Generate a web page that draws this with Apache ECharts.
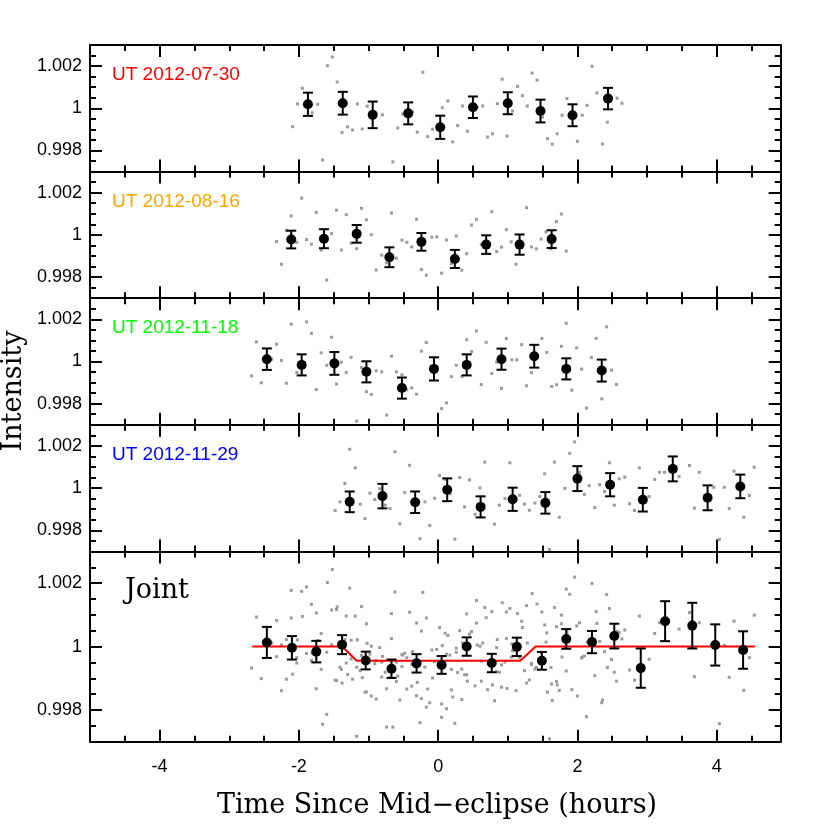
<!DOCTYPE html>
<html>
<head>
<meta charset="utf-8">
<title>Secondary eclipse light curves</title>
<script src="https://cdn.jsdelivr.net/npm/echarts@6/dist/echarts.min.js"></script>
<style>
  html, body { margin: 0; padding: 0; background: #fff; }
  #chart { width: 830px; height: 830px; }
</style>
</head>
<body>
<div id="chart"></div>
<script>
// ---------- data (time in hours since mid-eclipse, normalised intensity) ----------
const nightLabels = ["UT 2012-07-30", "UT 2012-08-16", "UT 2012-11-18", "UT 2012-11-29"];
const nightColors = ["#ff0000", "#ffa500", "#00ff00", "#0000ff"];

// raw exposures, night 1
const n1Time = [-2.09, -2.02, -1.95, -1.81, -1.73, -1.66, -1.59, -1.52, -1.45, -1.38, -1.30, -1.23, -1.16, -1.09, -1.02,
  -0.80, -0.65, -0.58, -0.51, -0.37, -0.30, -0.22, -0.15, -0.08, 0.06, 0.14, 0.21, 0.28, 0.35, 0.42, 0.56, 0.64, 0.71,
  0.78, 0.85, 0.92, 0.99, 1.07, 1.14, 1.21, 1.28, 1.35, 1.42, 1.50, 1.57, 1.64, 1.71, 1.78, 1.85, 2.00, 2.07, 2.14,
  2.21, 2.28, 2.36, 2.43, 2.57, 2.64];
const n1Flux = [0.99913, 1.00021, 1.00095, 0.99979, 1.00019, 0.99755, 1.00202, 1.00243, 1.00125, 0.99885, 0.99912,
  0.99897, 1.00021, 0.99902, 1.00010, 0.99969, 0.99746, 0.99907, 0.99973, 0.99984, 0.99887, 1.00171, 0.99866, 0.99901,
  1.00003, 1.00035, 0.99841, 0.99918, 1.00011, 0.99891, 1.00005, 1.00011, 0.99864, 0.99879, 1.00022, 1.00138, 0.99868,
  0.99987, 1.00104, 1.00060, 1.00011, 1.00167, 1.00134, 0.99958, 0.99856, 0.99830, 0.99879, 0.99967, 1.00046, 0.99844,
  0.99967, 1.00014, 1.00199, 1.00073, 0.99831, 0.99934, 1.00048, 1.00024];

// raw exposures, night 2
const n2Time = [-2.32, -2.25, -2.18, -2.11, -2.03, -1.96, -1.89, -1.82, -1.75, -1.68, -1.60, -1.53, -1.46, -1.39, -1.32,
  -1.25, -1.17, -1.10, -1.03, -0.96, -0.89, -0.81, -0.74, -0.67, -0.60, -0.52, -0.45, -0.38, -0.31, -0.24, -0.17, -0.09,
  -0.02, 0.05, 0.12, 0.19, 0.26, 0.34, 0.41, 0.48, 0.55, 0.62, 0.77, 0.84, 0.91, 0.98, 1.05, 1.12, 1.27, 1.34, 1.41,
  1.48, 1.55, 1.62, 1.70, 1.77, 1.84];
const n2Flux = [0.99968, 0.99861, 1.00022, 1.00090, 0.99965, 1.00174, 0.99978, 0.99956, 1.00106, 0.99928, 0.99786,
  1.00006, 1.00117, 0.99928, 1.00096, 0.99961, 0.99935, 1.00126, 1.00072, 1.00001, 0.99834, 0.99904, 0.99867, 1.00104,
  0.99890, 0.99975, 0.99965, 0.99943, 1.00074, 0.99836, 0.99809, 0.99989, 0.99991, 0.99819, 0.99976, 0.99863, 0.99995,
  0.99833, 0.99911, 1.00047, 1.00074, 0.99954, 1.00110, 0.99921, 0.99942, 1.00025, 0.99967, 0.99861, 1.00129, 0.99943,
  0.99934, 0.99980, 1.00014, 0.99934, 1.00063, 1.00099, 0.99923];

// raw exposures, night 3
const n3Time = [-2.68, -2.61, -2.54, -2.39, -2.32, -2.25, -2.18, -2.11, -2.03, -1.89, -1.82, -1.75, -1.68, -1.60, -1.53,
  -1.46, -1.39, -1.32, -1.25, -1.17, -1.10, -1.03, -0.96, -0.89, -0.81, -0.74, -0.67, -0.60, -0.52, -0.45, -0.38, -0.31,
  -0.24, -0.17, 0.05, 0.12, 0.19, 0.26, 0.34, 0.41, 0.48, 0.55, 0.62, 0.69, 0.77, 0.84, 0.91, 0.98, 1.06, 1.13, 1.20,
  1.27, 1.34, 1.49, 1.56, 1.63, 1.70, 1.77, 1.84, 1.92, 1.99, 2.06, 2.13, 2.20, 2.27, 2.35, 2.42, 2.49, 2.56];
const n3Flux = [0.99932, 1.00093, 0.99899, 1.00011, 1.00082, 1.00005, 0.99897, 1.00177, 0.99948, 1.00188, 1.00133,
  0.99867, 1.00041, 0.99982, 1.00115, 0.99893, 0.99997, 0.99948, 1.00020, 0.99717, 0.99972, 0.99857, 0.99844, 0.99956,
  0.99951, 0.99746, 1.00025, 0.99951, 0.99937, 0.99866, 0.99875, 0.99845, 1.00049, 1.00090, 0.99777, 0.99804, 0.99928,
  0.99982, 0.99929, 1.00103, 1.00047, 1.00145, 0.99891, 1.00091, 0.99943, 0.99997, 0.99872, 1.00109, 1.00008, 1.00008,
  1.00080, 0.99885, 0.99947, 1.00109, 1.00043, 0.99882, 0.99890, 1.00072, 1.00181, 0.99864, 1.00065, 0.99964, 0.99779,
  1.00019, 1.00110, 0.99823, 1.00164, 0.99959, 0.99891];

// raw exposures, night 4
const n4Time = [-1.48, -1.41, -1.34, -1.27, -1.19, -1.12, -1.05, -0.98, -0.91, -0.84, -0.76, -0.69, -0.62, -0.55, -0.48,
  -0.41, -0.26, -0.19, -0.12, -0.05, 0.02, 0.10, 0.17, 0.24, 0.31, 0.38, 0.45, 0.53, 0.60, 0.67, 0.81, 0.88, 0.96, 1.03,
  1.17, 1.24, 1.31, 1.39, 1.46, 1.53, 1.60, 1.67, 1.74, 1.82, 1.89, 1.96, 2.03, 2.10, 2.17, 2.25, 2.32, 2.39, 2.46, 2.53,
  2.60, 2.68, 2.75, 2.82, 2.89, 3.03, 3.11, 3.18, 3.25, 3.46, 3.61, 3.68, 3.75, 3.96, 4.04, 4.11, 4.18, 4.25, 4.39,
  4.47, 4.54];
const n4Flux = [0.99894, 0.99935, 1.00022, 1.00184, 1.00096, 0.99924, 0.99856, 0.99976, 0.99946, 0.99997, 0.99919,
  0.99903, 1.00172, 0.99831, 0.99979, 1.00108, 0.99760, 0.99935, 0.99823, 0.99952, 1.00060, 1.00042, 0.99973, 0.99758,
  1.00050, 0.99911, 1.00039, 0.99876, 1.00001, 1.00123, 0.99829, 0.99919, 0.99951, 1.00120, 0.99966, 0.99924, 0.99895,
  0.99929, 0.99960, 1.00068, 0.99709, 1.00123, 0.99862, 0.99999, 1.00165, 1.00219, 1.00075, 0.99970, 1.00011, 0.99908,
  1.00016, 0.99984, 1.00120, 0.99919, 1.00044, 1.00052, 0.99926, 0.99894, 1.00096, 0.99960, 1.00041, 1.00075, 1.00075,
  1.00055, 1.00107, 0.99905, 1.00075, 1.00004, 0.99757, 1.00004, 0.99903, 1.00080, 0.99862, 0.99965, 1.00099];

// binned points with 1-sigma errors
const n1BinTime = [-1.87, -1.37, -0.94, -0.43, 0.03, 0.50, 1.00, 1.47, 1.93, 2.44];
const n1BinFlux = [1.00019, 1.00024, 0.99969, 0.99976, 0.99910, 1.00005, 1.00024, 0.99987, 0.99967, 1.00046];
const n1BinErr = [0.00055, 0.00054, 0.00063, 0.00052, 0.00055, 0.00051, 0.00052, 0.00054, 0.00052, 0.00051];

const n2BinTime = [-2.11, -1.64, -1.17, -0.70, -0.24, 0.24, 0.69, 1.17, 1.63];
const n2BinFlux = [0.99978, 0.99982, 1.00005, 0.99894, 0.99967, 0.99886, 0.99954, 0.99954, 0.99980];
const n2BinErr = [0.00042, 0.00045, 0.00042, 0.00047, 0.00042, 0.00043, 0.00044, 0.00048, 0.00042];

const n3BinTime = [-2.46, -1.96, -1.49, -1.03, -0.52, -0.06, 0.41, 0.91, 1.38, 1.84, 2.35];
const n3BinFlux = [1.00011, 0.99984, 0.99991, 0.99951, 0.99874, 0.99965, 0.99984, 1.00011, 1.00025, 0.99965, 0.99957];
const n3BinErr = [0.00051, 0.00050, 0.00054, 0.00050, 0.00050, 0.00055, 0.00050, 0.00050, 0.00054, 0.00050, 0.00052];

const n4BinTime = [-1.27, -0.80, -0.33, 0.13, 0.61, 1.07, 1.54, 2.00, 2.47, 2.94, 3.37, 3.87, 4.34];
const n4BinFlux = [0.99935, 0.99962, 0.99933, 0.99992, 0.99911, 0.99947, 0.99930, 1.00045, 1.00016, 0.99945, 1.00091,
  0.99954, 1.00008];
const n4BinErr = [0.00049, 0.00058, 0.00051, 0.00054, 0.00050, 0.00055, 0.00051, 0.00059, 0.00055, 0.00056, 0.00059,
  0.00059, 0.00056];

const jointBinTime = [-2.46, -2.10, -1.75, -1.38, -1.04, -0.67, -0.31, 0.05, 0.41, 0.77, 1.13, 1.49, 1.84, 2.21, 2.53,
  2.91, 3.26, 3.65, 3.98, 4.38];
const jointBinFlux = [1.00013, 0.99996, 0.99984, 1.00006, 0.99956, 0.99930, 0.99947, 0.99942, 1.00000, 0.99948,
  0.99999, 0.99955, 1.00024, 1.00014, 1.00033, 0.99932, 1.00080, 1.00066, 1.00005, 0.99989];
const jointBinErr = [0.00049, 0.00037, 0.00034, 0.00030, 0.00028, 0.00029, 0.00029, 0.00028, 0.00029, 0.00029,
  0.00029, 0.00028, 0.00031, 0.00035, 0.00039, 0.00062, 0.00063, 0.00072, 0.00065, 0.00059];

// best-fit eclipse model
const modelTime = [-2.67, -1.38, -1.17, 1.18, 1.40, 4.55];
const modelFlux = [1, 1, 0.99955, 0.99955, 1, 1];

// axis ticks
const xMinorTicks = [-4.5, -4, -3.5, -3, -2.5, -2, -1.5, -1, -0.5, 0, 0.5, 1, 1.5, 2, 2.5, 3, 3.5, 4, 4.5];
const xMajorTicks = [-4, -2, 0, 2, 4];
const yMinorTicks = [0.9975, 0.998, 0.9985, 0.999, 0.9995, 1, 1.0005, 1.001, 1.0015, 1.002, 1.0025];
const yMajorTicks = [0.998, 1, 1.002];

// ---------- layout ----------
const X_MIN = -5, X_MAX = 4.92;
const Y_MIN = 0.997, Y_MAX = 1.003;
const panelTops = [45, 171.6, 298.2, 424.8, 551.4];
const panelHeights = [126.6, 126.6, 126.6, 126.6, 190.3];
const GRID_LEFT = 90, GRID_WIDTH = 690.7;

const frameLine = { show: true, onZero: false, lineStyle: { color: "#000", width: 2 } };
const tickLine = { color: "#000", width: 2 };
const labelFont = { color: "#000", fontFamily: "Liberation Sans, Arial, sans-serif" };

const pairs = (t, f) => t.map((v, k) => [v, f[k]]);
const triples = (t, f, e) => t.map((v, k) => [v, f[k], e[k]]);

const panels = [
  { raw: pairs(n1Time, n1Flux), bins: triples(n1BinTime, n1BinFlux, n1BinErr) },
  { raw: pairs(n2Time, n2Flux), bins: triples(n2BinTime, n2BinFlux, n2BinErr) },
  { raw: pairs(n3Time, n3Flux), bins: triples(n3BinTime, n3BinFlux, n3BinErr) },
  { raw: pairs(n4Time, n4Flux), bins: triples(n4BinTime, n4BinFlux, n4BinErr) },
];
// joint panel shows every exposure of the four nights together
panels.push({
  raw: panels[0].raw.concat(panels[1].raw, panels[2].raw, panels[3].raw),
  bins: triples(jointBinTime, jointBinFlux, jointBinErr),
  model: pairs(modelTime, modelFlux),
});

function xAxesFor(g, withLabels) {
  const base = { gridIndex: g, type: "value", min: X_MIN, max: X_MAX, splitLine: { show: false } };
  const minor = (pos) => ({
    ...base, position: pos, axisLine: frameLine,
    axisTick: { show: true, inside: true, length: 6, customValues: xMinorTicks, lineStyle: tickLine },
    axisLabel: { show: false },
  });
  const major = (pos, lbl) => ({
    ...base, position: pos, axisLine: { show: false, onZero: false },
    axisTick: { show: true, inside: true, length: 12, customValues: xMajorTicks, lineStyle: tickLine },
    axisLabel: lbl
      ? { show: true, customValues: xMajorTicks, margin: 16, fontSize: 18, ...labelFont, formatter: (v) => String(v) }
      : { show: false },
  });
  return [minor("bottom"), major("bottom", withLabels), minor("top"), major("top", false)];
}

function yAxesFor(g) {
  const base = { gridIndex: g, type: "value", min: Y_MIN, max: Y_MAX, splitLine: { show: false } };
  const minor = (pos) => ({
    ...base, position: pos, axisLine: frameLine,
    axisTick: { show: true, inside: true, length: 6, customValues: yMinorTicks, lineStyle: tickLine },
    axisLabel: { show: false },
  });
  const major = (pos, lbl) => ({
    ...base, position: pos, axisLine: { show: false, onZero: false },
    axisTick: { show: true, inside: true, length: 12, customValues: yMajorTicks, lineStyle: tickLine },
    axisLabel: lbl
      ? { show: true, customValues: yMajorTicks, margin: 8, fontSize: 18, padding: [8, 0, 0, 0], ...labelFont,
          formatter: (v) => String(+v.toFixed(4)) }
      : { show: false },
  });
  return [minor("left"), major("left", true), minor("right"), major("right", false)];
}

function renderErrorBar(params, api) {
  const x = api.value(0), y = api.value(1), e = api.value(2);
  const hi = api.coord([x, y + e]);
  const lo = api.coord([x, y - e]);
  const cap = 5;
  const style = { stroke: "#000", lineWidth: 2 };
  return {
    type: "group",
    children: [
      { type: "line", shape: { x1: hi[0], y1: hi[1], x2: lo[0], y2: lo[1] }, style },
      { type: "line", shape: { x1: hi[0] - cap, y1: hi[1], x2: hi[0] + cap, y2: hi[1] }, style },
      { type: "line", shape: { x1: lo[0] - cap, y1: lo[1], x2: lo[0] + cap, y2: lo[1] }, style },
    ],
  };
}

const grids = [], xAxes = [], yAxes = [], series = [];
panels.forEach((p, g) => {
  grids.push({ left: GRID_LEFT, top: panelTops[g], width: GRID_WIDTH, height: panelHeights[g],
    outerBoundsMode: "none", containLabel: false });
  xAxes.push(...xAxesFor(g, g === panels.length - 1));
  yAxes.push(...yAxesFor(g));
  const axes = { xAxisIndex: 4 * g, yAxisIndex: 4 * g };
  series.push({
    type: "scatter", ...axes, data: p.raw, symbol: "rect", symbolSize: 3, silent: true, z: 1,
    itemStyle: { color: "#9b9b9b", opacity: 1 },
  });
  if (p.model) {
    series.push({
      type: "line", ...axes, data: p.model, symbol: "none", silent: true, z: 2,
      lineStyle: { color: "#ff0000", width: 2 },
    });
  }
  series.push({
    type: "custom", ...axes, data: p.bins, renderItem: renderErrorBar, silent: true, z: 3,
    encode: { x: 0, y: 1 },
  });
  series.push({
    type: "scatter", ...axes, data: p.bins.map((b) => [b[0], b[1]]), symbol: "circle", symbolSize: 10,
    silent: true, z: 4, itemStyle: { color: "#000", opacity: 1 },
  });
});

const graphics = nightLabels.map((txt, k) => ({
  type: "text", x: 112, y: panelTops[k] + 30,
  style: { text: txt, fill: nightColors[k], font: "19px 'Liberation Sans', Arial, sans-serif",
    textAlign: "left", textVerticalAlign: "middle" },
}));
graphics.push(
  { type: "text", x: 125, y: 591,
    style: { text: "Joint", fill: "#000", font: "27px 'DejaVu Serif', serif", textAlign: "left", textVerticalAlign: "middle" } },
  { type: "text", x: 437, y: 806,
    style: { text: "Time Since Mid\u2212eclipse (hours)", fill: "#000", font: "27px 'DejaVu Serif', serif",
      textAlign: "center", textVerticalAlign: "middle" } },
  { type: "text", x: 14, y: 391, rotation: Math.PI / 2,
    style: { text: "Intensity", fill: "#000", font: "27px 'DejaVu Serif', serif",
      textAlign: "center", textVerticalAlign: "middle" } }
);

const chart = echarts.init(document.getElementById("chart"));
chart.setOption({
  animation: false,
  backgroundColor: "#fff",
  grid: grids,
  xAxis: xAxes,
  yAxis: yAxes,
  series: series,
  graphic: graphics,
});
</script>
</body>
</html>
